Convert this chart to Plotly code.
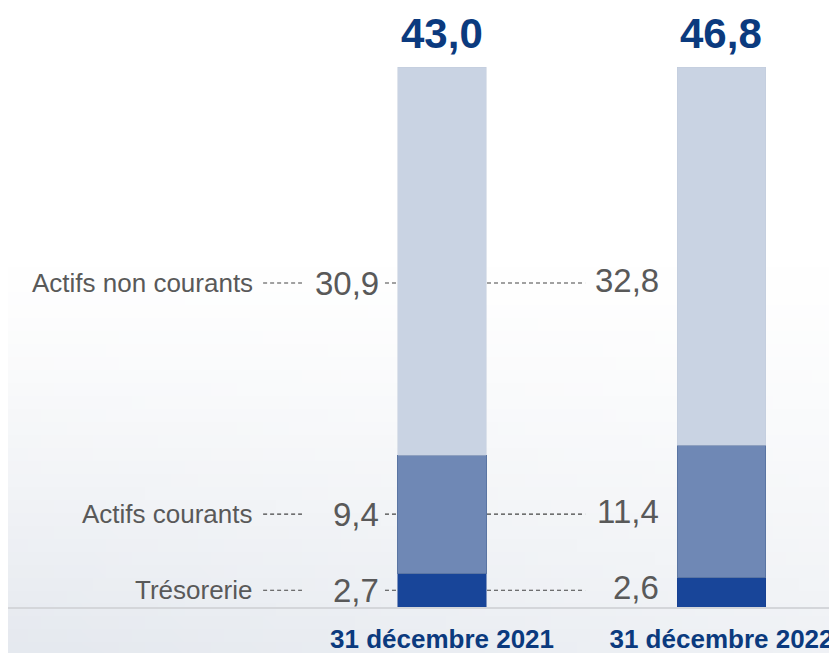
import base64
import struct
import zlib

import plotly.graph_objects as go

# ---------------- data ----------------
categories = ["31 décembre 2021", "31 décembre 2022"]
series_names = ["Trésorerie", "Actifs courants", "Actifs non courants"]
tresorerie = [2.7, 2.6]
actifs_courants = [9.4, 11.4]
actifs_non_courants = [30.9, 32.8]
totals = [43.0, 46.8]

# ---------------- styling ----------------
FONT = "Liberation Sans, Arial, sans-serif"
NAVY = "#0B3A7E"
GREY = "#595959"
seg_colors = ["#184599", "#6F88B5", "#C9D3E3"]
seg_lines = ["#143C8C", "#5A75A3", "#C2CCDC"]
seg_line_w = [0.5, 1, 0.5]


def fmt(v):
    return f"{v:.1f}".replace(".", ",")


# soft background (decorative gradient, generated as a tiny PNG)
def make_bg(w=64, h=50):
    rows = []
    for j in range(h):
        t = j / (h - 1)
        row = bytearray([0])
        for i in range(w):
            s = i / (w - 1)
            k = max(0.0, (t - 0.4) / 0.6) ** 1.2
            k *= 1.0 - 0.4 * s
            r = int(255 - k * 26)
            g = int(255 - k * 22)
            b = int(255 - k * 16)
            row += bytes([r, g, b])
        rows.append(bytes(row))
    raw = b"".join(rows)

    def chunk(tag, data):
        c = struct.pack(">I", len(data)) + tag + data
        return c + struct.pack(">I", zlib.crc32(tag + data) & 0xFFFFFFFF)

    png = b"\x89PNG\r\n\x1a\n"
    png += chunk(b"IHDR", struct.pack(">IIBBBBB", w, h, 8, 2, 0, 0, 0))
    png += chunk(b"IDAT", zlib.compress(raw, 9))
    png += chunk(b"IEND", b"")
    return "data:image/png;base64," + base64.b64encode(png).decode()


fig = go.Figure()
for name, vals, col, lc, lw in zip(series_names,
                                   [tresorerie, actifs_courants, actifs_non_courants],
                                   seg_colors, seg_lines, seg_line_w):
    fig.add_trace(go.Bar(
        x=[0, 1], y=vals, name=name, width=0.315,
        marker=dict(color=col, line=dict(color=lc, width=lw)),
        hoverinfo="skip",
    ))

annotations = []
shapes = []

# totals above bars
for i, t in enumerate(totals):
    annotations.append(dict(
        x=i, y=100, xref="x", yref="y", text=f"<b>{fmt(t)}</b>",
        showarrow=False, yanchor="bottom", yshift=8,
        font=dict(family=FONT, size=42, color=NAVY),
    ))

# label rows (vertical position in % of bar)
row_y = [3.1, 17.2, 60.0]
all_series = [tresorerie, actifs_courants, actifs_non_courants]
dash_style = dict(color="#444444", width=1.1, dash="4px,3px")
for name, vals, y in zip(series_names, all_series, row_y):
    annotations.append(dict(
        x=-0.669, y=y, xref="x", yref="y", text=name, showarrow=False,
        xanchor="right", yanchor="middle",
        font=dict(family=FONT, size=26, color=GREY),
    ))
    annotations.append(dict(
        x=-0.218, y=y, xref="x", yref="y", text=fmt(vals[0]), showarrow=False,
        xanchor="right", yanchor="middle",
        font=dict(family=FONT, size=33, color=GREY),
    ))
    annotations.append(dict(
        x=0.784, y=y, xref="x", yref="y", text=fmt(vals[1]), showarrow=False,
        xanchor="right", yanchor="middle", yshift=3,
        font=dict(family=FONT, size=33, color=GREY),
    ))
    for x0, x1 in [(-0.640, -0.501), (-0.204, -0.161), (0.161, 0.512)]:
        shapes.append(dict(type="line", xref="x", yref="y", x0=x0, x1=x1,
                           y0=y, y1=y, line=dash_style))

fig.update_layout(
    width=837, height=653,
    barmode="stack", barnorm="percent",
    showlegend=False,
    paper_bgcolor="white", plot_bgcolor="rgba(0,0,0,0)",
    margin=dict(l=0, r=0, t=59, b=54),
    annotations=annotations,
    shapes=shapes,
    images=[dict(source=make_bg(), xref="paper", yref="paper", x=0, y=-0.1,
                 sizex=1, sizey=1.2, xanchor="left", yanchor="bottom",
                 sizing="stretch", layer="below")],
    xaxis=dict(
        range=[-1.5528, 1.4419], tickmode="array", tickvals=[0, 1],
        ticktext=categories, showgrid=False, zeroline=False,
        showline=True, linecolor="#D4D6DA", linewidth=2,
        ticks="", ticklabelstandoff=8,
        tickfont=dict(family=FONT, size=26, color=NAVY, weight="bold"),
        fixedrange=True,
    ),
    yaxis=dict(range=[0, 100], visible=False, fixedrange=True),
)

fig.write_html("out.html")
